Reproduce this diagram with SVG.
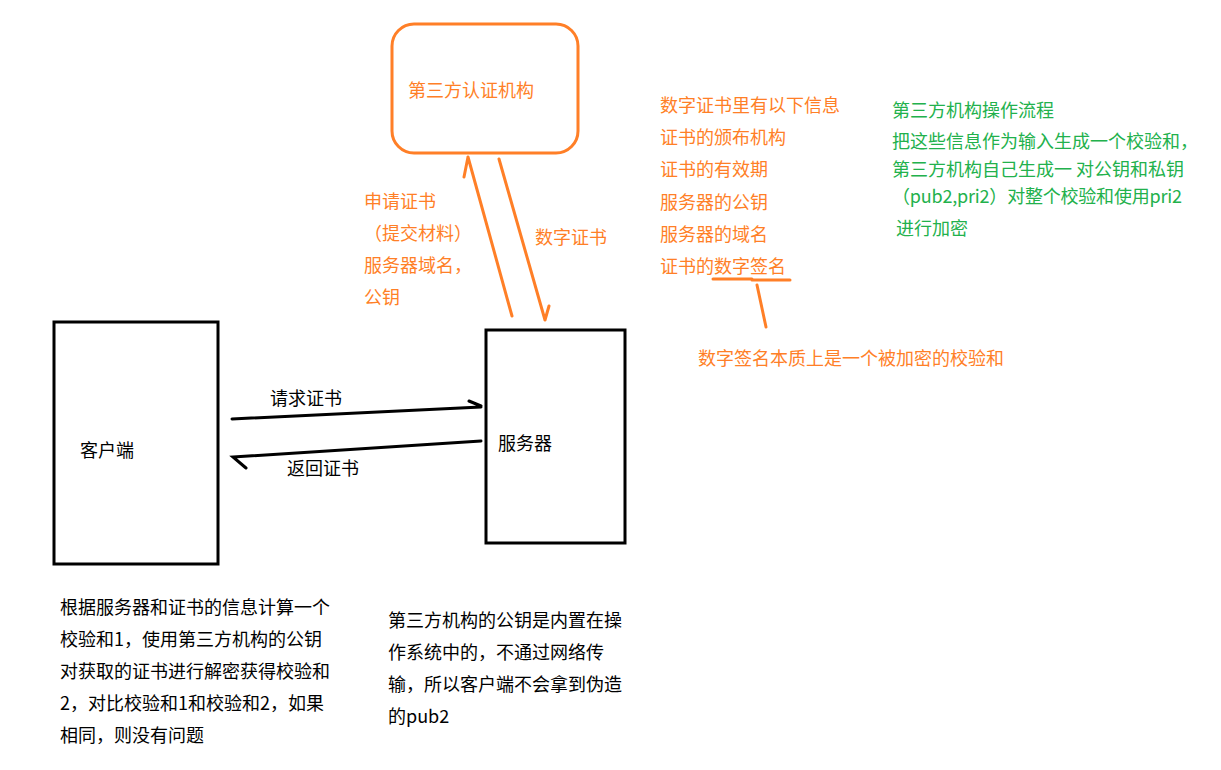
<svg xmlns="http://www.w3.org/2000/svg" width="1221" height="770" viewBox="0 0 1221 770">
<style>
text{font-family:"Microsoft YaHei","Noto Sans CJK SC","Noto Sans",sans-serif;font-size:18px;dominant-baseline:central}
.o{fill:#ff7f27}
.g{fill:#22b14c}
.k{fill:#000}
.ol{stroke:#ff7f27;stroke-width:3;fill:none;stroke-linecap:round}
.kl{stroke:#000;stroke-width:3;fill:none;stroke-linecap:round}
</style>
<rect width="1221" height="770" fill="#fff"/>
<g id="ca">
<rect x="392" y="24" width="186" height="129" rx="22" class="ol"/>
<text x="408" y="89" class="o">第三方认证机构</text>
</g>
<g id="client">
<rect x="54" y="322" width="164" height="242" class="kl" stroke-linecap="butt"/>
<text x="80" y="449" class="k">客户端</text>
</g>
<g id="server">
<rect x="486" y="330" width="139" height="213" class="kl" stroke-linecap="butt"/>
<text x="498" y="442" class="k">服务器</text>
</g>
<g id="connectors">
<path d="M512 316 L468 157 M464 177 L468 157" class="ol"/>
<path d="M499 159 L545 320 M549 306 L545 320" class="ol"/>
<path d="M232 419 L481 407 M469 401 L481 406" class="kl" stroke-width="2.6"/>
<path d="M481 441 L233 457 L246 468" class="kl" stroke-width="2.6"/>
<path d="M713 279 L752 279 M752 280 L790 280" class="ol" stroke-width="2.5"/>
<path d="M757 285 L766 327" class="ol" stroke-width="2.5"/>
</g>
<g id="labels">
<text x="364" y="200" class="o">申请证书</text>
<text x="364" y="232" class="o">（提交材料）</text>
<text x="364" y="264" class="o">服务器域名，</text>
<text x="364" y="296" class="o">公钥</text>
<text x="535" y="236" class="o">数字证书</text>
<text x="270" y="397" class="k">请求证书</text>
<text x="287" y="467" class="k">返回证书</text>
</g>
<g id="cert-info">
<text x="660" y="104" class="o">数字证书里有以下信息</text>
<text x="660" y="136" class="o">证书的颁布机构</text>
<text x="660" y="168" class="o">证书的有效期</text>
<text x="660" y="201" class="o">服务器的公钥</text>
<text x="660" y="233" class="o">服务器的域名</text>
<text x="660" y="265" class="o">证书的数字签名</text>
<text x="698" y="357" class="o">数字签名本质上是一个被加密的校验和</text>
</g>
<g id="ca-flow">
<text x="892" y="109" class="g">第三方机构操作流程</text>
<text x="892" y="140" class="g">把这些信息作为输入生成一个校验和，</text>
<text x="892" y="168" class="g">第三方机构自己生成一 对公钥和私钥</text>
<text x="892" y="195" class="g" textLength="290">（pub2,pri2）对整个校验和使用pri2</text>
<text x="892" y="227" class="g" style="white-space:pre"> 进行加密</text>
</g>
<g id="client-note">
<text x="60" y="606" class="k">根据服务器和证书的信息计算一个</text>
<text x="60" y="638" class="k">校验和1，使用第三方机构的公钥</text>
<text x="60" y="670" class="k">对获取的证书进行解密获得校验和</text>
<text x="60" y="702" class="k">2，对比校验和1和校验和2，如果</text>
<text x="60" y="734" class="k">相同，则没有问题</text>
</g>
<g id="pubkey-note">
<text x="388" y="619" class="k">第三方机构的公钥是内置在操</text>
<text x="388" y="651" class="k">作系统中的，不通过网络传</text>
<text x="388" y="683" class="k">输，所以客户端不会拿到伪造</text>
<text x="388" y="715" class="k">的pub2</text>
</g>
</svg>
